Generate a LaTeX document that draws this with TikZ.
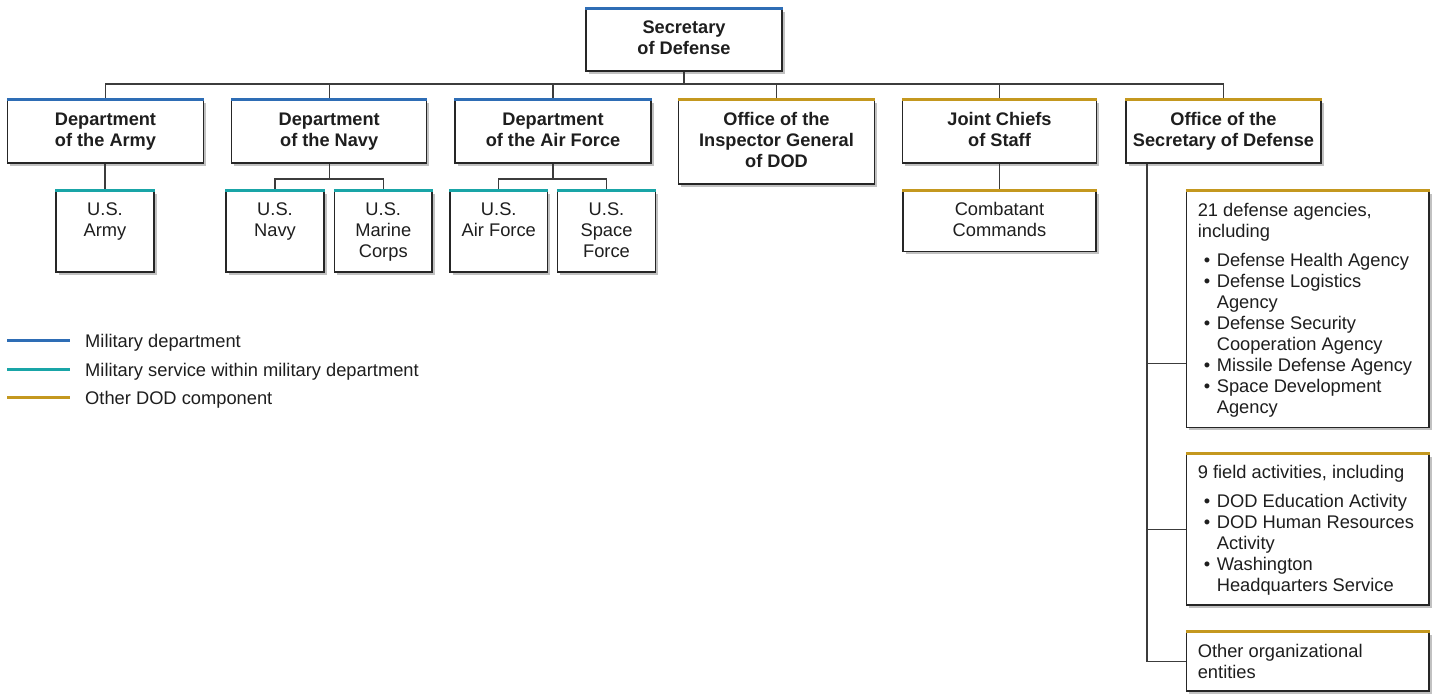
\documentclass[tikz,border=0pt]{standalone}
\usepackage{fontspec}
\setmainfont{Liberation Sans}
\usetikzlibrary{shadows}
\definecolor{mdblue}{HTML}{2E6DB5}
\definecolor{msteal}{HTML}{19A5A7}
\definecolor{odgold}{HTML}{C4981F}
\definecolor{ink}{HTML}{1E1E1E}
\definecolor{edge}{HTML}{262626}
\newcommand\mybul{\makebox[19pt][l]{\hspace*{6pt}\textbullet}}
\newcommand\myind{\hspace*{19pt}}
\newcommand\mydepth{\vphantom{y}}
\tikzset{
  fs/.style={font=\fontsize{18.3}{21}\selectfont},
  box/.style={draw=edge, line width=1.4pt, fill=white, inner sep=0pt, text=ink,
    drop shadow={shadow xshift=2.5pt, shadow yshift=-2.5pt, opacity=.35, fill=black!70}},
  hdr/.style={box, align=center, font=\fontsize{18.2}{21}\selectfont\bfseries},
  txt/.style={inner sep=0pt, text=ink, fs},
  conn/.style={draw=edge!90, line width=1.4pt},
  barb/.style={line width=3pt, mdblue},
  bart/.style={line width=3pt, msteal},
  barg/.style={line width=3pt, odgold},
}
\begin{document}
\begin{tikzpicture}[x=1pt,y=-1pt]
\useasboundingbox (0,0) rectangle (1437,696);
% level 1
\node[hdr, minimum width=196pt, minimum height=62pt] (sec) at (684,40) {Secretary\\of Defense\mydepth};
% level 2
\node[hdr, minimum width=196pt, minimum height=63pt] (army) at (105.5,131.5) {Department\\of the Army};
\node[hdr, minimum width=195pt, minimum height=63pt] (navy) at (329.2,131.5) {Department\\of the Navy};
\node[hdr, minimum width=196pt, minimum height=63pt] (af) at (553,131.5) {Department\\of the Air Force\mydepth};
\node[hdr, minimum width=196pt, minimum height=84pt] (ig) at (776.5,142) {Office of the\\Inspector General\\of DOD\mydepth};
\node[hdr, minimum width=194pt, minimum height=63pt] (jcs) at (999.5,131.5) {Joint Chiefs\\of Staff\mydepth};
\node[hdr, minimum width=195pt, minimum height=63pt] (osd) at (1223.5,131.5) {Office of the\\Secretary of Defense};
% level 3 boxes
\node[box, minimum width=98pt, minimum height=81pt] (usarmy) at (105,231.5) {};
\node[box, minimum width=98pt, minimum height=81pt] (usnavy) at (275,231.5) {};
\node[box, minimum width=97.5pt, minimum height=81pt] (usmc) at (383.25,231.5) {};
\node[box, minimum width=97.5pt, minimum height=81pt] (usaf) at (498.75,231.5) {};
\node[box, minimum width=98pt, minimum height=81pt] (ussf) at (606.5,231.5) {};
\node[box, fs, align=center, minimum width=193pt, minimum height=60.5pt] (cc) at (999.5,221.25) {Combatant\\Commands\mydepth};
\node[box, minimum width=242.5pt, minimum height=236pt] (agen) at (1307.75,309.5) {};
\node[box, minimum width=242.5pt, minimum height=151pt] (field) at (1307.75,529.5) {};
\node[box, minimum width=242.5pt, minimum height=58.5pt] (other) at (1307.75,661.75) {};
% level 3 texts
\node[txt, align=center, anchor=north] (usarmyt) at ([yshift=-12.5pt]usarmy.north) {U.S.\\Army};
\node[txt, align=center, anchor=north] (usnavyt) at ([yshift=-12.5pt]usnavy.north) {U.S.\\Navy};
\node[txt, align=center, anchor=north] (usmct) at ([yshift=-12.5pt]usmc.north) {U.S.\\Marine\\Corps};
\node[txt, align=center, anchor=north] (usaft) at ([yshift=-12.5pt]usaf.north) {U.S.\\Air Force};
\node[txt, align=center, anchor=north] (ussft) at ([yshift=-12.5pt]ussf.north) {U.S.\\Space\\Force};
\node[txt, align=left, anchor=north west] (agent) at ([xshift=11.8pt,yshift=-12pt]agen.north west)
  {21 defense agencies,\\including\\[8.5pt]\mybul Defense Health Agency\\\mybul Defense Logistics\\\myind Agency\\\mybul Defense Security\\\myind Cooperation Agency\\\mybul Missile Defense Agency\\\mybul Space Development\\\myind Agency};
\node[txt, align=left, anchor=north west] (fieldt) at ([xshift=11.8pt,yshift=-11.7pt]field.north west)
  {9 field activities, including\\[8pt]\mybul DOD Education Activity\\\mybul DOD Human Resources\\\myind Activity\\\mybul Washington\\\myind Headquarters Service};
\node[txt, align=left, anchor=north west] (othert) at ([xshift=11.8pt,yshift=-12.5pt]other.north west)
  {Other organizational\\entities};
% connectors
\coordinate (bus) at (0,84);
\coordinate (nbus) at (0,179);
\coordinate (osdv) at (1147,0);
\draw[conn] (sec.south) -- (sec.south |- bus);
\draw[conn] (army.north) -- (army.north |- bus) -- (osd.north |- bus) -- (osd.north);
\draw[conn] (navy.north) -- (navy.north |- bus);
\draw[conn] (af.north) -- (af.north |- bus);
\draw[conn] (ig.north) -- (ig.north |- bus);
\draw[conn] (jcs.north) -- (jcs.north |- bus);
\draw[conn] (usarmy.north) -- (usarmy.north |- army.south);
\draw[conn] (navy.south) -- (navy.south |- nbus);
\draw[conn] (usnavy.north) -- (usnavy.north |- nbus) -- (usmc.north |- nbus) -- (usmc.north);
\draw[conn] (af.south) -- (af.south |- nbus);
\draw[conn] (usaf.north) -- (usaf.north |- nbus) -- (ussf.north |- nbus) -- (ussf.north);
\draw[conn] (cc.north) -- (cc.north |- jcs.south);
\coordinate (agenin) at ([yshift=65pt]agen.south west);
\draw[conn] (osdv |- osd.south) -- (osdv |- other.west) -- (other.west);
\draw[conn] (osdv |- agenin) -- (agenin);
\draw[conn] (osdv |- field.west) -- (field.west);
% colored top bars
\draw[barb] (sec.north west) -- (sec.north east);
\draw[barb] (army.north west) -- (army.north east);
\draw[barb] (navy.north west) -- (navy.north east);
\draw[barb] (af.north west) -- (af.north east);
\draw[barg] (ig.north west) -- (ig.north east);
\draw[barg] (jcs.north west) -- (jcs.north east);
\draw[barg] (osd.north west) -- (osd.north east);
\draw[bart] (usarmy.north west) -- (usarmy.north east);
\draw[bart] (usnavy.north west) -- (usnavy.north east);
\draw[bart] (usmc.north west) -- (usmc.north east);
\draw[bart] (usaf.north west) -- (usaf.north east);
\draw[bart] (ussf.north west) -- (ussf.north east);
\draw[barg] (cc.north west) -- (cc.north east);
\draw[barg] (agen.north west) -- (agen.north east);
\draw[barg] (field.north west) -- (field.north east);
\draw[barg] (other.north west) -- (other.north east);
% legend
\node[txt, anchor=base west] (leg1) at (85,347.5) {Military department};
\node[txt, anchor=base west] (leg2) at (85,376) {Military service within military department};
\node[txt, anchor=base west] (leg3) at (85,404.5) {Other DOD component};
\coordinate (lgs) at (7,0);
\coordinate (lge) at (70,0);
\draw[barb] (lgs |- 0,340.5) -- (lge |- 0,340.5);
\draw[bart] (lgs |- 0,369) -- (lge |- 0,369);
\draw[barg] (lgs |- 0,397.5) -- (lge |- 0,397.5);
\end{tikzpicture}
\end{document}
